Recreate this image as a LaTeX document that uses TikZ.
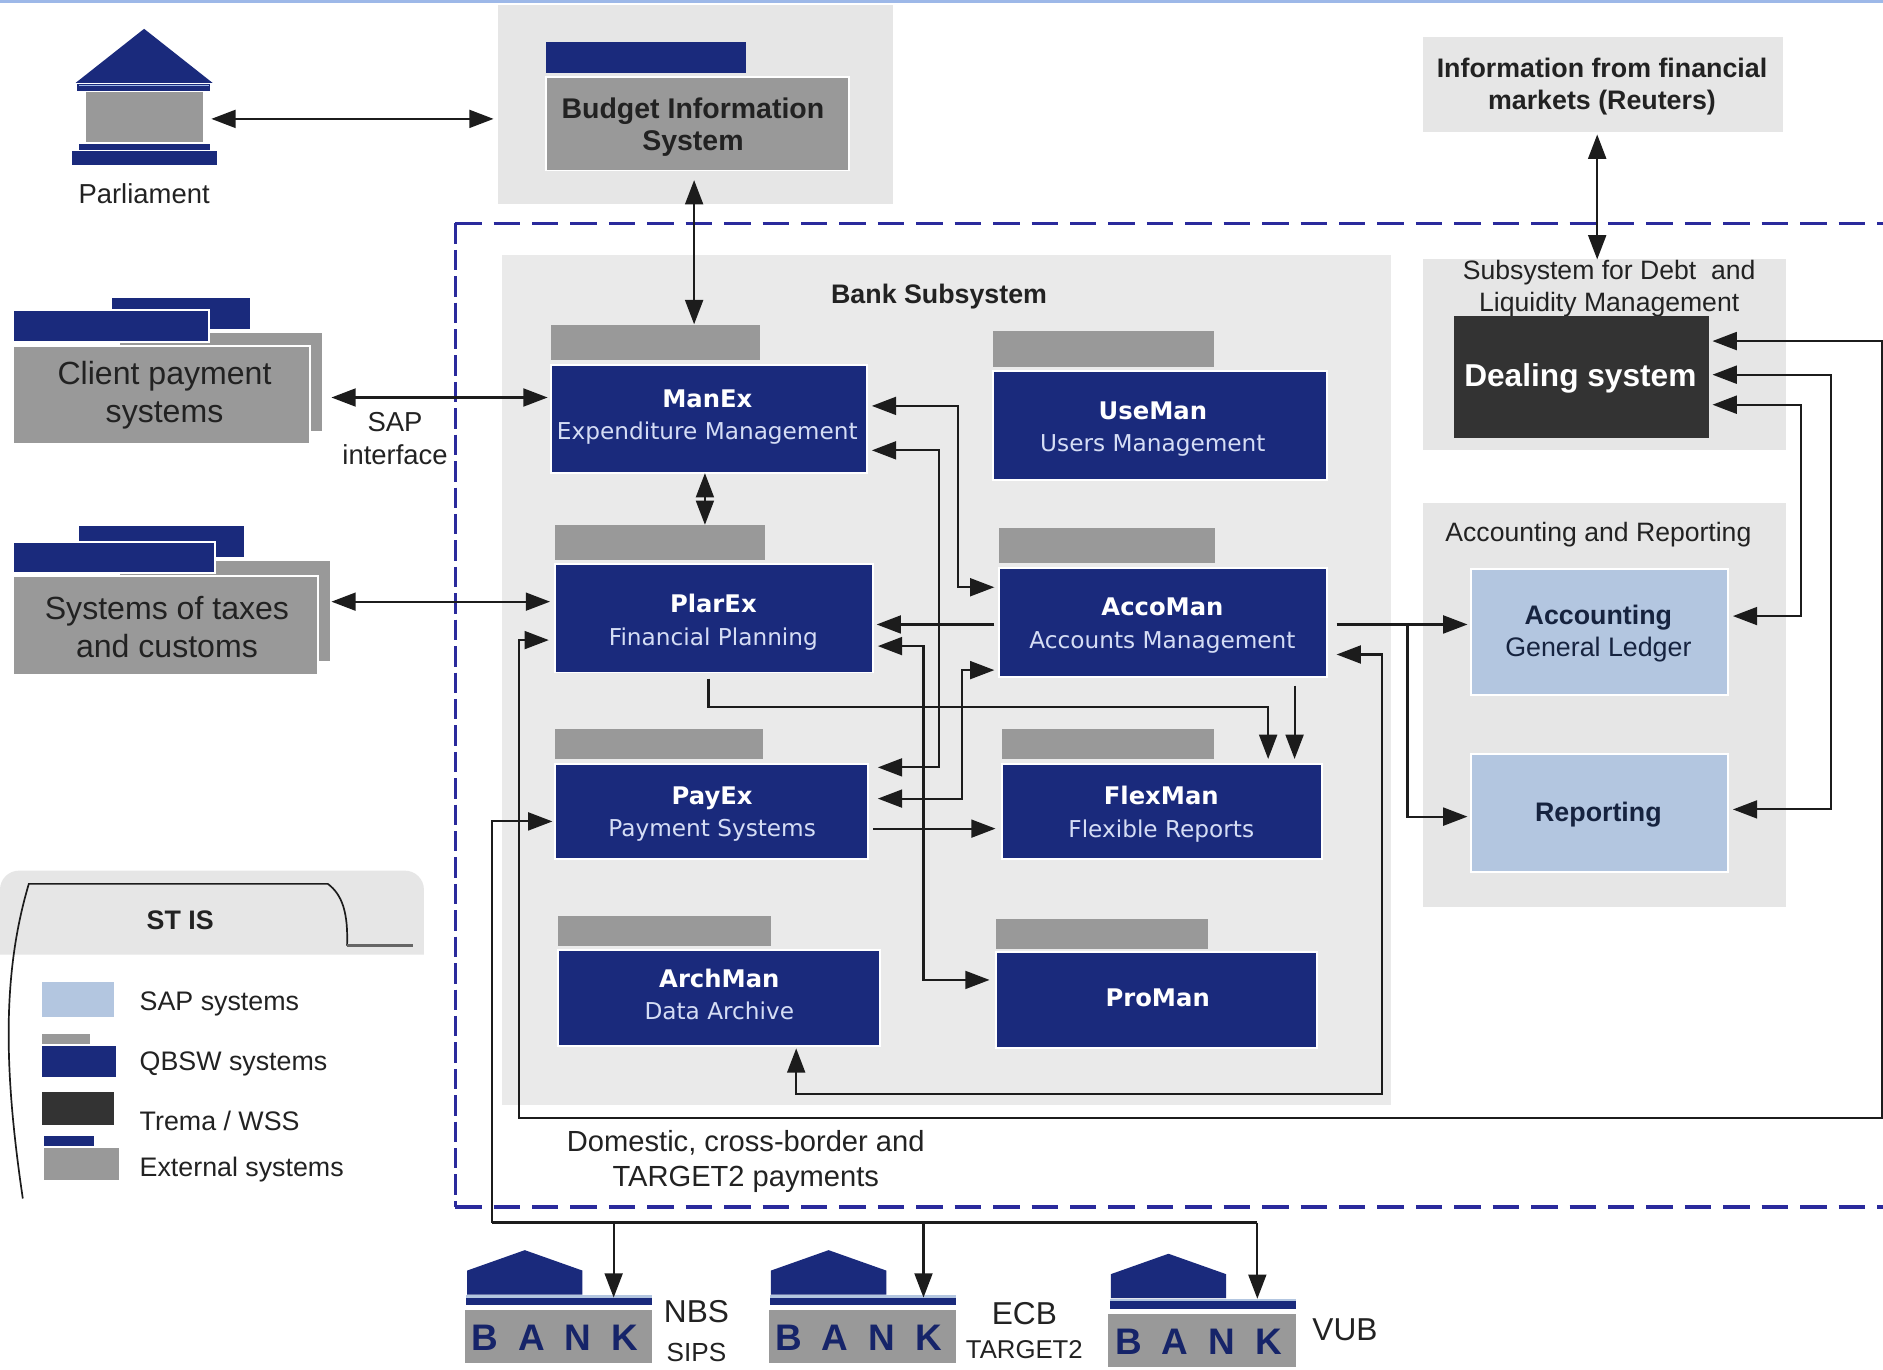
\documentclass[tikz,border=0pt]{standalone}
\usepackage{fontspec}
\setmainfont{Liberation Sans}
\newfontfamily\vd{DejaVu Sans}
\usetikzlibrary{arrows.meta}
\definecolor{navy}{HTML}{1A2A7C}
\definecolor{grayb}{HTML}{999999}
\definecolor{panel}{HTML}{E6E6E6}
\definecolor{sapc}{HTML}{B3C6E0}
\definecolor{darkb}{HTML}{333333}
\definecolor{topbar}{HTML}{9DB8E8}
\definecolor{dashc}{HTML}{2A2A9C}
\definecolor{subt}{HTML}{D5DDF5}
\definecolor{linec}{HTML}{1C1C1C}
\definecolor{ink}{HTML}{222222}
\definecolor{sapt}{HTML}{16233F}
\newcommand{\bx}[6]{% name,x1,y1,x2,y2,style
  \pgfmathsetmacro{\bxw}{(#4-#2)*0.02}\pgfmathsetmacro{\bxh}{(#5-#3)*0.02}
  \node[#6,minimum width=\bxw cm,minimum height=\bxh cm] (#1) at ({(#2+#4)/2},{(#3+#5)/2}) {};}
\tikzset{
  flat/.style={inner sep=0pt,outer sep=0pt,draw=none},
  panelbox/.style={flat,fill=panel},
  navyb/.style={flat,fill=navy,draw=white,line width=0.9pt},
  grayt/.style={flat,fill=grayb},
  navyt/.style={flat,fill=navy},
  grayf/.style={flat,fill=grayb,draw=white,line width=0.9pt},
  sapb/.style={flat,fill=sapc,draw=white,line width=0.9pt},
  lab/.style={inner sep=0pt,align=center,text=ink,font=\fontsize{13}{15.5}\selectfont},
  blab/.style={inner sep=0pt,align=center,text=ink,font=\fontsize{12.7}{15.3}\selectfont\bfseries},
  sysl/.style={inner sep=0pt,align=center,text=white,font=\vd\fontsize{11}{15.3}\selectfont},
  bigl/.style={inner sep=0pt,align=center,text=ink,font=\fontsize{15.2}{18}\selectfont},
  legl/.style={inner sep=0pt,anchor=west,text=ink,font=\fontsize{12.7}{15}\selectfont},
  lnk/.style={draw=linec,line width=1pt,-{Triangle[length=11.5pt,width=8.5pt]}},
  bilnk/.style={draw=linec,line width=1pt,{Triangle[length=11.5pt,width=8.5pt]}-{Triangle[length=11.5pt,width=8.5pt]}},
  sa/.style={shorten <=#1*0.02cm},
  sb/.style={shorten >=#1*0.02cm},
}
\newcommand{\sysname}[2]{{\fontsize{11.5}{15.3}\selectfont\bfseries #1}\\{\color{subt}#2}}
\newcommand{\bankicon}[3]{% name, x, y
  \begin{scope}[shift={(#2,#3)}]
    \fill[navy] (2,37) -- (2,17) -- (50,0) -- (98,17) -- (98,37) -- cycle;
    \fill[sapc] (1,37.5) rectangle (156,39.5);
    \bx{#1band}{1}{39.5}{156}{46}{navyt}
    \bx{#1}{0}{50}{156}{94}{grayt}
    \node[inner sep=0pt,text=navy!85!black,font=\fontsize{17.5}{20}\selectfont\bfseries] (#1txt) at (75,73) {B\hskip 9.5pt A\hskip 9.5pt N\hskip 9.5pt K};
  \end{scope}}
\begin{document}
\begin{tikzpicture}[x=0.02cm,y=-0.02cm]
\useasboundingbox (0,0) rectangle (1568,1140);
\fill[white] (0,0) rectangle (1568,1140);
\bx{topline}{0}{0}{1568}{2.5}{flat,fill=topbar}

% panels
\bx{budgetp}{415}{4}{744}{170}{panelbox}
\bx{bankp}{418}{212}{1158}{920}{panelbox,fill=panel!85!white}
\bx{infop}{1185}{31}{1485}{110}{panelbox}
\bx{debtp}{1185}{216}{1487}{375}{panelbox}
\bx{accp}{1185}{419}{1487}{755}{panelbox}

% dashed boundary
\coordinate (dbTL) at (379,186);
\coordinate (dbTR) at (1568,186);
\coordinate (dbBL) at (379,1005);
\coordinate (dbBR) at (1568,1005);
\draw[dashc,line width=1.7pt,dash pattern=on 22*0.02cm off 10*0.02cm] (dbTL) -- (dbTR);
\draw[dashc,line width=1.7pt,dash pattern=on 22*0.02cm off 10*0.02cm] (dbBL) -- (dbBR);
\draw[dashc,line width=1.3pt,dash pattern=on 17*0.02cm off 5*0.02cm] (dbTL) -- (dbBL);

% parliament
\fill[navy] (63,69) -- (120,24) -- (177,69) -- cycle;
\bx{pband}{64}{70}{175}{75.5}{navyt}
\fill[topbar] (66,70.5) rectangle (174,72);
\bx{pcol}{72}{77}{169}{118}{grayt}
\bx{pband2}{66}{120}{175}{125}{navyt}
\bx{pbase}{60}{126}{181}{137}{navyt}
\node[lab] (parl) at (120,161) {Parliament};

% budget
\bx{budgett}{455}{35}{621}{61}{navyt}
\bx{budget}{455}{64}{707}{142}{grayf}
\node[blab,font=\fontsize{13.5}{15.3}\selectfont\bfseries] (budgetl) at (577,106) {Budget Information\\System};

% info
\node[blab] (infol) at (1334,72) {Information from financial\\markets (Reuters)};

% client payment systems
\bx{clientbt}{93}{248}{208}{274}{navyt}
\bx{clientb}{100}{277}{268}{359}{grayt}
\bx{clientt}{11}{258}{174}{285}{navyb}
\bx{client}{11}{288}{258}{370}{grayf}
\node[bigl] (clientl) at (137,329) {Client payment\\systems};

% taxes
\bx{taxbt}{66}{438}{203}{464}{navyt}
\bx{taxb}{100}{467}{275}{550}{grayt}
\bx{taxt}{11}{451}{179}{477}{navyb}
\bx{tax}{11}{480}{265}{562}{grayf}
\node[bigl] (taxl) at (139,522) {Systems of taxes\\and customs};

% bank subsystem
\node[blab] (banktitle) at (782,247) {Bank Subsystem};
\bx{manext}{459}{271}{633}{300}{grayt}
\bx{manex}{459}{304}{722}{394}{navyb}
\node[sysl] (manexl) at (589,347) {\sysname{ManEx}{Expenditure Management}};
\bx{plarext}{462}{437}{637}{466}{grayt}
\bx{plarex}{462}{470}{727}{560}{navyb}
\node[sysl] (plarexl) at (594,518) {\sysname{PlarEx}{Financial Planning}};
\bx{payext}{462}{607}{635}{632}{grayt}
\bx{payex}{462}{636}{723}{715}{navyb}
\node[sysl] (payexl) at (593,678) {\sysname{PayEx}{Payment Systems}};
\bx{archt}{465}{763}{642}{788}{grayt}
\bx{arch}{465}{791}{733}{871}{navyb}
\node[sysl] (archl) at (599,828) {\sysname{ArchMan}{Data Archive}};
\bx{uset}{827}{276}{1011}{306}{grayt}
\bx{use}{827}{309}{1105}{400}{navyb}
\node[sysl] (usel) at (960,357) {\sysname{UseMan}{Users Management}};
\bx{accot}{832}{440}{1012}{469}{grayt}
\bx{acco}{832}{473}{1105}{564}{navyb}
\node[sysl] (accol) at (968,521) {\sysname{AccoMan}{Accounts Management}};
\bx{flext}{834}{607}{1011}{632}{grayt}
\bx{flex}{834}{636}{1101}{715}{navyb}
\node[sysl] (flexl) at (967,678) {\sysname{FlexMan}{Flexible Reports}};
\bx{prot}{829}{765}{1006}{790}{grayt}
\bx{pro}{829}{793}{1097}{873}{navyb}
\node[sysl,font=\vd\fontsize{11.5}{15.3}\selectfont\bfseries] (prol) at (964,831) {ProMan};

% debt subsystem
\node[lab,font=\fontsize{12.6}{15.5}\selectfont] (debtl) at (1340,240.5) {Subsystem for Debt\ \ and\\[-0.2pt]Liquidity Management};
\bx{dealing}{1211}{263}{1423}{365}{flat,fill=darkb}
\node[inner sep=0pt,text=white,font=\fontsize{15}{18}\selectfont\bfseries] (dealingl) at (1316,315) {Dealing system};

% accounting
\node[lab,font=\fontsize{12.6}{15.5}\selectfont] (accrl) at (1331,445) {Accounting and Reporting};
\bx{acct}{1225}{474}{1439}{579}{sapb}
\node[inner sep=0pt,align=center,text=sapt,font=\fontsize{12.7}{15.3}\selectfont] (acctl) at (1331,527.5) {{\bfseries Accounting}\\General Ledger};
\bx{rep}{1225}{628}{1439}{726}{sapb}
\node[inner sep=0pt,text=sapt,font=\fontsize{12.7}{15.3}\selectfont\bfseries] (repl) at (1331,678) {Reporting};

% free labels
\node[lab] (sapl) at (329,365) {SAP\\interface};
\node[lab,font=\fontsize{13.8}{16.5}\selectfont] (doml) at (621,967) {Domestic, cross-border and\\TARGET2 payments};

% legend
\fill[panel] (0,795) [rounded corners=9pt] -- (0,725) -- (353,725) [sharp corners] -- (353,795) -- cycle;
\draw[linec,line width=0.8pt] (19,998) .. controls (3,890) and (2,810) .. (24,736) -- (273,736) .. controls (285,745) and (290,760) .. (289,787.5);
\draw[gray!80!black,line width=1.3pt] (289,787.5) -- (344,787.5);
\node[blab] (legt) at (150,766) {ST IS};
\bx{lsap}{35}{818}{95}{847}{flat,fill=sapc}
\node[legl] (lsapl) at (116,836) {SAP systems};
\bx{lqbt}{35}{861}{75}{869}{grayt}
\bx{lqb}{35}{871}{97}{897}{navyt}
\node[legl] (lqbl) at (116,886) {QBSW systems};
\bx{ltre}{35}{909}{95}{937}{flat,fill=darkb}
\node[legl] (ltrel) at (116,933) {Trema / WSS};
\bx{lext}{37}{946}{78}{954}{navyt}
\bx{lex}{37}{956}{99}{983}{grayt}
\node[legl] (lexl) at (116,974) {External systems};

% banks
\bankicon{nbs}{387}{1041}
\bankicon{ecb}{640}{1041}
\bankicon{vub}{923}{1044}
\node[lab,font=\fontsize{15}{18}\selectfont] (nbsl) at (580,1092) {NBS};
\node[lab,font=\fontsize{12.4}{15}\selectfont] (sipsl) at (580,1126) {SIPS};
\node[lab,font=\fontsize{15}{18}\selectfont] (ecbl) at (853,1094) {ECB};
\node[lab,font=\fontsize{12.2}{15}\selectfont] (t2l) at (853,1124) {TARGET2};
\node[lab,font=\fontsize{15}{18}\selectfont] (vubl) at (1120,1107) {VUB};

% connectors: outside systems
\draw[bilnk,sa=7,sb=4] (pcol.east |- 0,99) -- (budgetp.west |- 0,99);
\draw[bilnk,sa=8,sb=1] (578,0 |- budget.south) -- (578,0 |- manext.north);
\draw[bilnk,sa=8,sb=3] (clientb.east |- 0,331) -- (manex.west |- 0,331);
\draw[bilnk,sa=1,sb=4] (taxb.east |- 0,501) -- (plarex.west |- 0,501);
\draw[bilnk,sa=2,sb=0] (1330,0 |- infop.south) -- (1330,0 |- debtp.north);
\draw[bilnk] (587,0 |- manex.south) -- (587,0 |- plarext.north);

% connectors: bank subsystem
\draw[lnk,sa=4,sb=3] (acco.west |- 0,520) -- (plarex.east |- 0,520);
\draw[bilnk,sa=4,sb=4] (manex.east |- 0,338) -- (798,338) -- (798,489) -- (acco.west |- 0,489);
\draw[bilnk,sa=4,sb=8] (manex.east |- 0,375) -- (782,375) -- (782,639) -- (payex.east |- 0,639);
\draw[bilnk,sa=4,sb=5] (plarex.east |- 0,538) -- (769,538) -- (769,816) -- (pro.west |- 0,816);
\draw[bilnk,sa=8,sb=4] (payex.east |- 0,665) -- (801,665) -- (801,558) -- (acco.west |- 0,558);
\draw[lnk,sa=4,sb=5] (payex.east |- 0,690) -- (flex.west |- 0,690);
\draw[lnk,sa=5,sb=4] (590,0 |- plarex.south) -- (590,589) -- (1056,589) -- (1056,0 |- flex.north);
\draw[lnk,sa=7,sb=4] (1078,0 |- acco.south) -- (1078,0 |- flex.north);
\draw[bilnk,sa=8,sb=2] (acco.east |- 0,545) -- (1151,545) -- (1151,911) -- (663,911) -- (663,0 |- arch.south);

% connectors: accounting
\coordinate (acbranch) at (1172,520);
\draw[lnk,sa=8,sb=3] (acco.east |- acbranch) -- (acct.west |- acbranch);
\draw[lnk,sb=3] (acbranch) -- (1172,680) -- (rep.west |- 0,680);
\draw[bilnk,sa=3,sb=4] (dealing.east |- 0,337) -- (1500,337) -- (1500,513) -- (acct.east |- 0,513);
\draw[bilnk,sa=3,sb=4] (dealing.east |- 0,312) -- (1525,312) -- (1525,674) -- (rep.east |- 0,674);

% long connectors
\coordinate (edgeT) at (1567,284);
\coordinate (edgeB) at (1567,931);
\draw[bilnk,sa=3,sb=5] (dealing.east |- edgeT) -- (edgeT) -- (edgeB) -- (432,931) -- (432,533) -- (plarex.west |- 0,533);
\coordinate (busL) at (410,1018);
\draw[lnk,sb=2] (busL) -- (410,684) -- (payex.west |- 0,684);
\draw[linec,line width=1pt] (busL) -- (1047,1018);
\draw[lnk] (511,1018) -- (511,0 |- nbsband.north);
\draw[lnk] (769,1018) -- (769,0 |- ecbband.north);
\draw[lnk,sb=2] (1047,1018) -- (1047,0 |- vubband.north);
\end{tikzpicture}
\end{document}
